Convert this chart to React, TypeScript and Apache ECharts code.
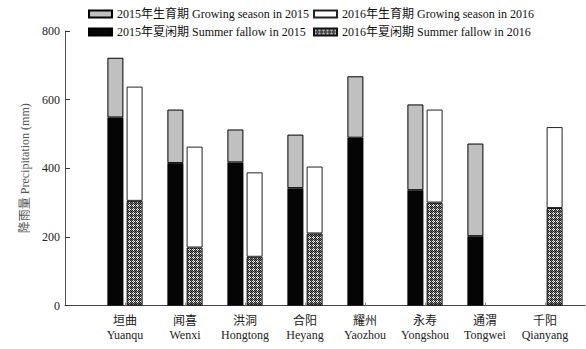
import React, { useEffect, useRef } from "react";
import * as echarts from "echarts";

const categoriesZh = ["垣曲", "闻喜", "洪洞", "合阳", "耀州", "永寿", "通渭", "千阳"];
const categoriesEn = ["Yuanqu", "Wenxi", "Hongtong", "Heyang", "Yaozhou", "Yongshou", "Tongwei", "Qianyang"];

const fallow2015: (number | null)[] = [548, 415, 417, 342, 489, 336, 202, null];
const growing2015: (number | null)[] = [174, 156, 96, 156, 179, 250, 270, null];
const fallow2016: (number | null)[] = [305, 169, 142, 210, null, 300, null, 284];
const growing2016: (number | null)[] = [333, 294, 246, 195, null, 271, null, 236];

const NAME_G15 = "2015年生育期 Growing season in 2015";
const NAME_G16 = "2016年生育期 Growing season in 2016";
const NAME_F15 = "2015年夏闲期 Summer fallow in 2015";
const NAME_F16 = "2016年夏闲期 Summer fallow in 2016";

const FONT = "'Liberation Serif', 'Noto Sans CJK SC', serif";

function makePattern(): HTMLCanvasElement {
  const c = document.createElement("canvas");
  c.width = 4;
  c.height = 4;
  const ctx = c.getContext("2d")!;
  const K = "#1a1a1a";
  const G = "#777777";
  const W = "#f0f0f0";
  const grid = [
    [K, W, K, G],
    [W, G, W, K],
    [K, W, K, G],
    [G, K, G, K],
  ];
  for (let y = 0; y < 4; y++) {
    for (let x = 0; x < 4; x++) {
      ctx.fillStyle = grid[y][x];
      ctx.fillRect(x, y, 1, 1);
    }
  }
  return c;
}

const labels = categoriesZh.map((z, i) => z + "\n" + categoriesEn[i]);

export default function App() {
  const ref = useRef<HTMLDivElement>(null);
  useEffect(() => {
    if (!ref.current) return;
    const chart = echarts.init(ref.current, undefined, { renderer: "svg" });
    const pattern = { image: makePattern(), repeat: "repeat" } as any;
    const legendBase = {
      orient: "vertical",
      padding: 0,
      itemWidth: 23,
      itemHeight: 7,
      itemGap: 5,
      icon: "rect",
      selectedMode: false,
      textStyle: { fontFamily: FONT, fontSize: 12, color: "#111" },
    };
    const barBase = { type: "bar", barWidth: 16, barGap: "20%", xAxisIndex: 0, yAxisIndex: 0 };
    const option: any = {
      animation: false,
      backgroundColor: "#fff",
      legend: [
        { ...legendBase, left: 88, top: 8, data: [NAME_G15] },
        { ...legendBase, left: 88, top: 26, data: [NAME_F15] },
        { ...legendBase, left: 313, top: 8, data: [NAME_G16] },
        { ...legendBase, left: 313, top: 26, data: [NAME_F16] },
      ],
      grid: [
        { left: 95, top: 31, width: 480, bottom: 43.5 },
        { left: 65, top: 31, width: 520, bottom: 43.5 },
      ],
      xAxis: [
        {
          type: "category",
          gridIndex: 0,
          data: labels,
          boundaryGap: true,
          axisLine: { show: false },
          axisTick: {
            show: true,
            inside: true,
            length: 3,
            alignWithLabel: true,
            lineStyle: { color: "#888" },
          },
          axisLabel: {
            interval: 0,
            fontFamily: FONT,
            fontSize: 12,
            lineHeight: 14,
            color: "#222",
            margin: 8,
          },
        },
        {
          type: "value",
          gridIndex: 1,
          min: 0,
          max: 1,
          axisLine: { show: true, lineStyle: { color: "#444", width: 1 } },
          axisTick: { show: false },
          axisLabel: { show: false },
          splitLine: { show: false },
        },
      ],
      yAxis: [
        {
          type: "value",
          gridIndex: 0,
          offset: 30,
          min: 0,
          max: 800,
          interval: 200,
          name: "降雨量 Precipitation (mm)",
          nameLocation: "middle",
          nameGap: 34,
          nameTextStyle: { fontFamily: FONT, fontSize: 12, color: "#555" },
          splitLine: { show: false },
          axisLine: { show: true, lineStyle: { color: "#555", width: 1 } },
          axisTick: { show: true, inside: true, length: 5, lineStyle: { color: "#333" } },
          axisLabel: { fontFamily: FONT, fontSize: 12, color: "#222", margin: 5 },
        },
        {
          type: "value",
          gridIndex: 1,
          min: 0,
          max: 1,
          show: false,
        },
      ],
      series: [
        {
          ...barBase,
          name: NAME_F15,
          stack: "s2015",
          data: fallow2015,
          itemStyle: { color: "#050505", borderColor: "#000", borderWidth: 0.5 },
        },
        {
          ...barBase,
          name: NAME_F16,
          stack: "s2016",
          data: fallow2016,
          itemStyle: { color: pattern, borderColor: "#111", borderWidth: 1 },
        },
        {
          ...barBase,
          name: NAME_G15,
          stack: "s2015",
          data: growing2015,
          itemStyle: { color: "#c0c0c0", borderColor: "#000", borderWidth: 1 },
        },
        {
          ...barBase,
          name: NAME_G16,
          stack: "s2016",
          data: growing2016,
          itemStyle: { color: "#fff", borderColor: "#222", borderWidth: 1 },
        },
      ],
    };
    chart.setOption(option);
    return () => chart.dispose();
  }, []);
  return (
    <div
      ref={ref}
      style={{ position: "fixed", left: 0, top: 0, width: 586, height: 349 }}
    />
  );
}
